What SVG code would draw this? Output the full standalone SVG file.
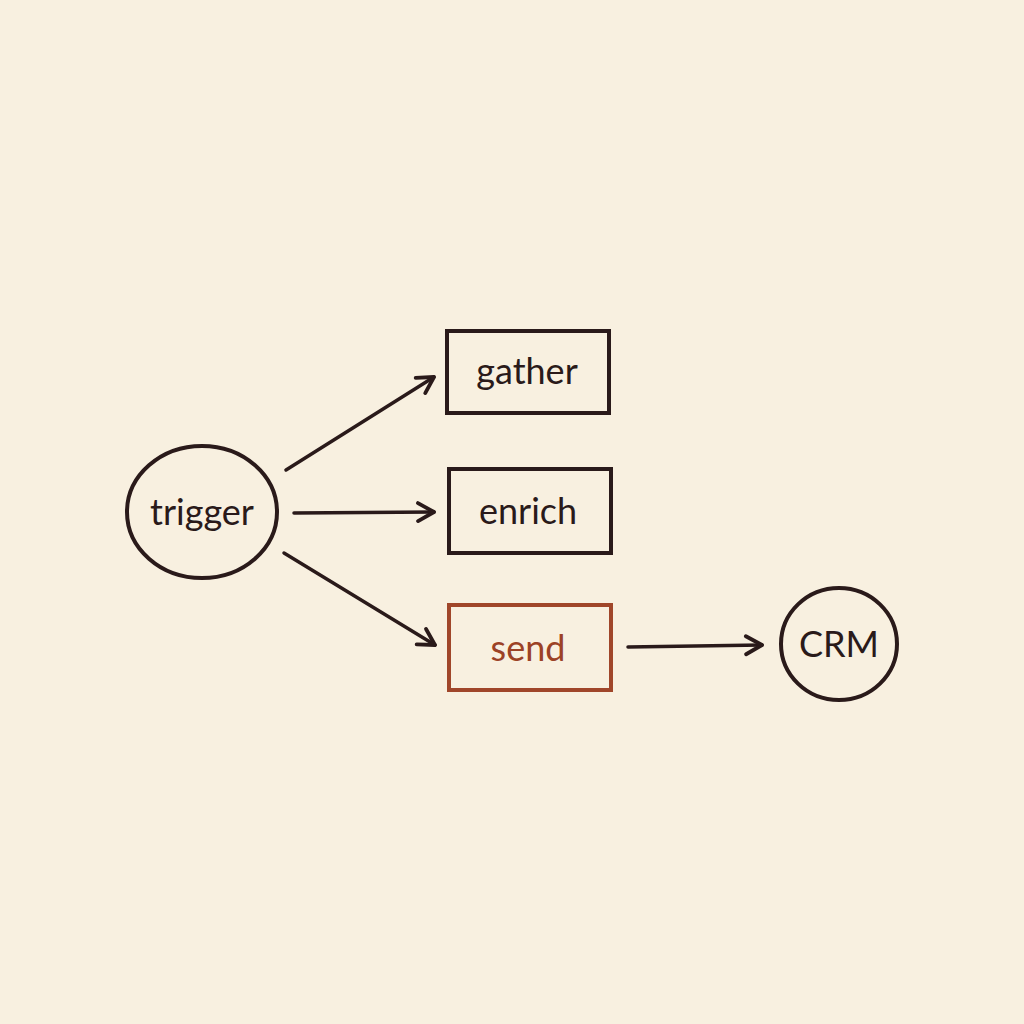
<svg xmlns="http://www.w3.org/2000/svg" width="1024" height="1024" viewBox="0 0 1024 1024">
<defs>
<marker id="arr" viewBox="0 0 24 24" refX="20" refY="12" markerWidth="24" markerHeight="24" markerUnits="userSpaceOnUse" orient="auto">
<path d="M4,3 L20,12 L4,21" fill="none" stroke="#2a1a1a" stroke-width="3.8" stroke-linecap="round" stroke-linejoin="round"/>
</marker>
</defs>
<style>
.n{fill:none;stroke:#2a1a1a;stroke-width:4}
.hot{fill:none;stroke:#a0462a;stroke-width:4}
.t{font-family:"Lato","Noto Sans",sans-serif;font-size:36px;fill:#2a1a1a;text-anchor:middle}
.th{fill:#9c4226}
.c{fill:none;stroke:#2a1a1a;stroke-width:3.5;stroke-linecap:round;marker-end:url(#arr)}
</style>
<rect width="1024" height="1024" fill="#f8f0e0"/>
<g id="connectors">
<path class="c" d="M286,470 L434,377"/>
<path class="c" d="M294,513 L434,512"/>
<path class="c" d="M284,553 L435,645"/>
<path class="c" d="M628,647 L762,645"/>
</g>
<g id="trigger">
<ellipse class="n" cx="202" cy="512" rx="75" ry="66"/>
<text class="t" x="202" y="525">trigger</text>
</g>
<g id="gather">
<rect class="n" x="447" y="331" width="162" height="82"/>
<text class="t" x="527" y="384">gather</text>
</g>
<g id="enrich">
<rect class="n" x="449" y="469" width="162" height="84"/>
<text class="t" x="528" y="524">enrich</text>
</g>
<g id="send">
<rect class="hot" x="449" y="605" width="162" height="85"/>
<text class="t th" x="528" y="661">send</text>
</g>
<g id="CRM">
<ellipse class="n" cx="839" cy="644" rx="58" ry="56"/>
<text class="t" x="839" y="657">CRM</text>
</g>
</svg>
